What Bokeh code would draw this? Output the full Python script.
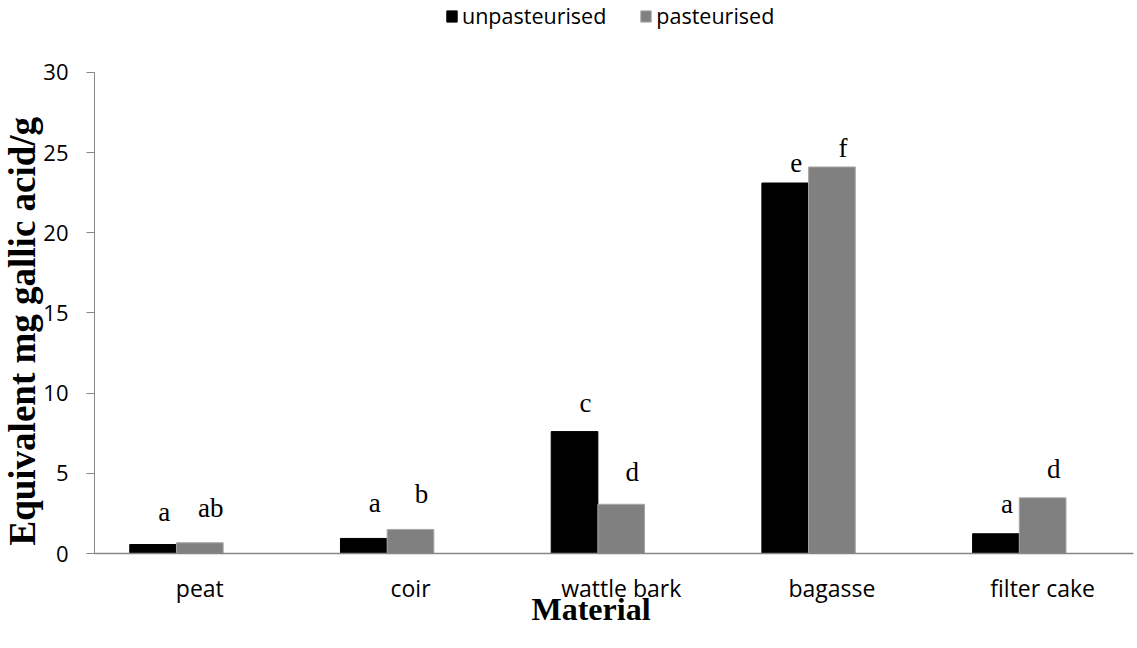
from bokeh.plotting import figure
from bokeh.models import (ColumnDataSource, Range1d, FixedTicker, Legend, LegendItem, Title)
from bokeh.core.properties import value
from bokeh.embed import file_html
from bokeh.resources import INLINE

# ---- data ----
categories = ["peat", "coir", "wattle bark", "bagasse", "filter cake"]
unpasteurised = [0.56, 0.94, 7.6, 23.1, 1.23]
pasteurised = [0.67, 1.5, 3.07, 24.1, 3.47]
letters_unpast = ["a", "a", "c", "e", "a"]
letters_past = ["ab", "b", "d", "f", "d"]
letter_y_unpast = [2.0, 2.56, 8.8, 23.8, 2.54]
letter_y_past = [2.27, 3.12, 4.5, 24.7, 4.7]
y_ticks = [0, 5, 10, 15, 20, 25, 30]

# ---- layout constants ----
BAR_W = 0.2216
OFF = 0.1108
AXIS_GREY = "#868686"

idx = list(range(len(categories)))
src_u = ColumnDataSource(dict(x=[i - OFF for i in idx], top=unpasteurised,
                              ly=letter_y_unpast, txt=letters_unpast))
src_p = ColumnDataSource(dict(x=[i + OFF for i in idx], top=pasteurised,
                              ly=letter_y_past, txt=letters_past))

p = figure(width=1135, height=648, output_backend="svg", toolbar_location=None,
           x_range=Range1d(-0.389, 4.542), y_range=Range1d(0, 34.48),
           min_border_left=94, min_border_right=2, min_border_top=0, min_border_bottom=95)
p.outline_line_color = None
p.xgrid.visible = False
p.ygrid.visible = False

r_u = p.vbar(x="x", top="top", width=BAR_W, source=src_u, fill_color="#000000", line_color="#000000")
r_p = p.vbar(x="x", top="top", width=BAR_W, source=src_p, fill_color="#808080", line_color="#a6a6a6", line_width=1)

for s in (src_u, src_p):
    p.text(x="x", y="ly", text="txt", source=s, text_align="center", text_baseline="alphabetic",
           x_offset=11, y_offset=-9, text_font=value("Liberation Serif"), text_font_size="27px",
           text_color="#000000")

# y axis
ya = p.yaxis[0]
ya.ticker = FixedTicker(ticks=y_ticks)
ya.bounds = (0, 30)
ya.axis_line_color = AXIS_GREY
ya.major_tick_line_color = AXIS_GREY
ya.major_tick_out = 8
ya.major_tick_in = 0
ya.minor_tick_line_color = None
ya.major_label_standoff = 18
ya.major_label_text_font = "Open Sans"
ya.major_label_text_font_size = "22px"
ya.major_label_text_color = "#000000"

# x axis (category labels sit under the pasteurised bar, as in the reference)
tick_pos = [i + OFF for i in idx]
xa = p.xaxis[0]
xa.ticker = FixedTicker(ticks=tick_pos)
xa.major_label_overrides = {t: c for t, c in zip(tick_pos, categories)}
xa.axis_line_color = AXIS_GREY
xa.axis_line_width = 1.5
xa.major_tick_line_color = None
xa.major_tick_out = 0
xa.major_tick_in = 0
xa.minor_tick_line_color = None
xa.major_label_standoff = 18
xa.major_label_text_font = "Open Sans"
xa.major_label_text_font_size = "23px"
xa.major_label_text_color = "#000000"

# axis titles
p.add_layout(Title(text="Equivalent mg gallic acid/g", align="left", offset=8, standoff=-4,
                   text_font="Liberation Serif", text_font_style="bold",
                   text_font_size="37px", text_color="#000000"), "left")
p.add_layout(Title(text="Material", align="left", offset=437, standoff=-36,
                   text_font="Liberation Serif", text_font_style="bold",
                   text_font_size="32px", text_color="#000000"), "below")

legend = Legend(items=[LegendItem(label="unpasteurised", renderers=[r_u]),
                       LegendItem(label="pasteurised", renderers=[r_p])],
                orientation="horizontal", location=(351, 523),
                glyph_width=13, glyph_height=14, label_standoff=4, spacing=33,
                padding=0, margin=0, border_line_alpha=0, background_fill_alpha=0,
                label_text_font="Open Sans", label_text_font_size="21.5px", label_text_color="#000000")
p.add_layout(legend)

open("out.html", "w").write(file_html(p, INLINE))
